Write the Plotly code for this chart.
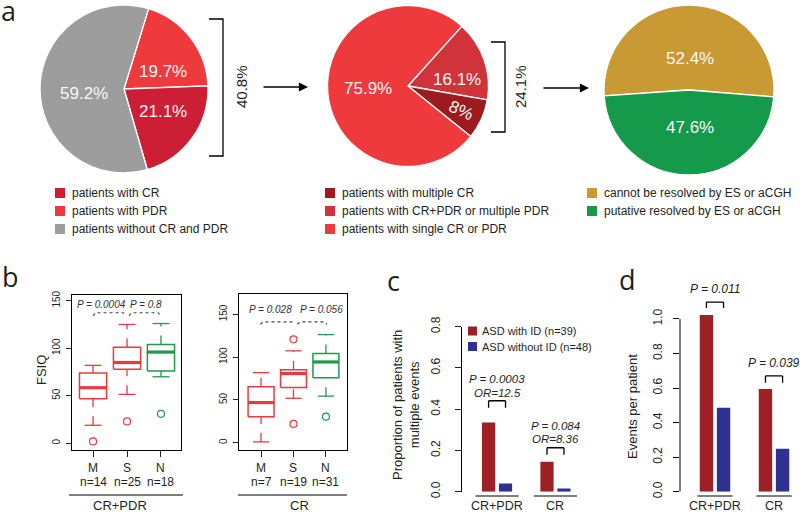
import plotly.graph_objects as go

W, H = 800, 514
def fx(x): return x / W
def fy(y): return 1 - y / H

FONT = "Liberation Sans, Arial, sans-serif"
TXT = "#231F20"

# ------------------------- data -------------------------
pie1_labels = ["patients with CR", "patients with PDR", "patients without CR and PDR"]
pie1_values = [21.1, 19.7, 59.2]
pie1_colors = ["#CC1F36", "#EE3A3D", "#9D9D9D"]
pie2_labels = ["patients with multiple CR", "patients with CR+PDR or multiple PDR", "patients with single CR or PDR"]
pie2_values = [8.0, 16.1, 75.9]
pie2_colors = ["#9B1B1F", "#D0333A", "#EE3A3D"]
pie3_labels = ["cannot be resolved by ES or aCGH", "putative resolved by ES or aCGH"]
pie3_values = [52.4, 47.6]
pie3_colors = ["#C99934", "#15994A"]
bracket_labels = ["40.8%", "24.1%"]

box_groups = ["M", "S", "N"]
box_colors = ["#E63B40", "#E63B40", "#1F9A4B"]
b1_title = "CR+PDR"
b1_n = [14, 25, 18]
b1_low = [19, 51.5, 70]
b1_q1 = [47, 78, 76]
b1_med = [58.5, 85, 96]
b1_q3 = [74, 101, 104]
b1_high = [82, 125, 126]
b1_out = [[2], [23], [31]]
b1_p = ["P = 0.0004", "P = 0.8"]

b2_title = "CR"
b2_n = [7, 19, 31]
b2_low = [1, 52, 54.5]
b2_q1 = [30.5, 64.5, 76]
b2_med = [47, 81, 94.5]
b2_q3 = [65.5, 85.5, 104.5]
b2_high = [82, 107.5, 126.5]
b2_out = [[], [22, 121], [30.5]]
b2_p = ["P = 0.028", "P = 0.056"]

bar_categories = ["CR+PDR", "CR"]
series_names = ["ASD with ID (n=39)", "ASD without ID (n=48)"]
series_colors = ["#9E1F24", "#2E3192"]
c_with_id = [0.336, 0.145]
c_without_id = [0.040, 0.016]
c_p = ["P = 0.0003", "P = 0.084"]
c_or = ["OR=12.5", "OR=8.36"]
d_with_id = [1.023, 0.595]
d_without_id = [0.486, 0.249]
d_p = ["P = 0.011", "P = 0.039"]

fig = go.Figure()
ann = []
shapes = []

def text(x, y, s, size=12, xref="paper", yref="paper", angle=0, color=TXT,
         xanchor="center", yanchor="middle", family=FONT):
    ann.append(dict(x=x, y=y, xref=xref, yref=yref, text=s, showarrow=False,
                    textangle=angle, xanchor=xanchor, yanchor=yanchor,
                    font=dict(family=family, size=size, color=color)))

# ------------------------- panel a: pies -------------------------
def add_pie(labels, values, colors, order, rotation, cx, cy, r, offsets, angles=None):
    fig.add_trace(go.Pie(
        labels=[labels[i] for i in order], values=[values[i] for i in order],
        marker=dict(colors=[colors[i] for i in order], line=dict(color="white", width=1.3)),
        sort=False, direction="clockwise", rotation=rotation, textinfo="none",
        hoverinfo="none", showlegend=False, automargin=False,
        domain=dict(x=[fx(cx - r), fx(cx + r)], y=[fy(cy + r), fy(cy - r)])))
    for k, v in enumerate(values):
        dx, dy = offsets[k]
        text(fx(cx + dx), fy(cy + dy), f"{v:g}%", size=17, color="#F7F7F7",
             angle=(angles[k] if angles else 0))

def add_legend(labels, colors, x0, ys):
    for lab, col, yy in zip(labels, colors, ys):
        shapes.append(dict(type="rect", xref="paper", yref="paper",
                           x0=fx(x0), x1=fx(x0 + 10), y0=fy(yy + 5), y1=fy(yy - 5),
                           fillcolor=col, line=dict(width=0)))
        text(fx(x0 + 15), fy(yy), lab, size=12, xanchor="left")

add_pie(pie1_labels, pie1_values, pie1_colors, [1, 0, 2], 17, 124, 89, 84,
        [(39, 22), (39, -17), (-40, 4)])
add_pie(pie2_labels, pie2_values, pie2_colors, [1, 0, 2], 42, 408, 86, 80.5,
        [(53, 24), (49, -7), (-40, 2)], angles=[24, 0, 0])
add_pie(pie3_labels, pie3_values, pie3_colors, [0, 1], -94, 689, 90, 85,
        [(1, -32), (1, 37)])

add_legend(pie1_labels, pie1_colors, 55, [193, 211, 229])
add_legend(pie2_labels, pie2_colors, 325, [193, 211, 229])
add_legend(pie3_labels, pie3_colors, 587, [193, 211])

def bracket_v(x, y0, y1, tick):
    path = f"M {fx(x - tick)},{fy(y0)} L {fx(x)},{fy(y0)} L {fx(x)},{fy(y1)} L {fx(x - tick)},{fy(y1)}"
    shapes.append(dict(type="path", xref="paper", yref="paper", path=path,
                       line=dict(color="black", width=1.3)))

bracket_v(223, 19, 156, 14)
text(fx(241), fy(87), bracket_labels[0], size=15, angle=-90)
bracket_v(505, 42, 132, 14)
text(fx(520), fy(87), bracket_labels[1], size=15, angle=-90)

for x0, x1, yy in [(262, 308, 87), (542, 589, 88)]:
    ann.append(dict(x=fx(x1), y=fy(yy), xref="paper", yref="paper", text="",
                    showarrow=True, ax=-(x1 - x0), ay=0, arrowhead=2, arrowsize=1.4,
                    arrowwidth=1.3, arrowcolor="black", standoff=0))

# ------------------------- panel b: box plots -------------------------
def add_boxes(xa, ya, low, q1, med, q3, high, outs, hw=0.4, cw=0.25):
    for i in range(len(box_groups)):
        x = i + 1
        c = box_colors[i]
        common = dict(xaxis=xa, yaxis=ya, showlegend=False, hoverinfo="skip", mode="lines")
        fig.add_trace(go.Scatter(x=[x, x], y=[q3[i], high[i]], line=dict(color=c, width=1.3, dash="dash"), **common))
        fig.add_trace(go.Scatter(x=[x, x], y=[low[i], q1[i]], line=dict(color=c, width=1.3, dash="dash"), **common))
        fig.add_trace(go.Scatter(x=[x - cw, x + cw], y=[high[i], high[i]], line=dict(color=c, width=1.3), **common))
        fig.add_trace(go.Scatter(x=[x - cw, x + cw], y=[low[i], low[i]], line=dict(color=c, width=1.3), **common))
        fig.add_trace(go.Scatter(x=[x - hw, x + hw, x + hw, x - hw, x - hw],
                                 y=[q1[i], q1[i], q3[i], q3[i], q1[i]],
                                 line=dict(color=c, width=1.5), **common))
        fig.add_trace(go.Scatter(x=[x - hw, x + hw], y=[med[i], med[i]], line=dict(color=c, width=3.2), **common))
        if outs[i]:
            fig.add_trace(go.Scatter(x=[x] * len(outs[i]), y=outs[i], mode="markers",
                                     marker=dict(symbol="circle-open", size=7, color=c, line=dict(width=1.2)),
                                     xaxis=xa, yaxis=ya, showlegend=False, hoverinfo="skip"))

def add_braces(xa, ya, spans, ytop, yend):
    for a, b in spans:
        fig.add_trace(go.Scatter(x=[a, a + 0.08, b - 0.08, b], y=[yend, ytop, ytop, yend],
                                 mode="lines", line=dict(color="#444", width=1.1, dash="dot"),
                                 xaxis=xa, yaxis=ya, showlegend=False, hoverinfo="skip"))

def box_xlabels(xa, ns):
    for i, (g, n) in enumerate(zip(box_groups, ns)):
        text(i + 1, fy(468), g, size=12, xref=xa)
        text(i + 1, fy(482), f"n={n}", size=12, xref=xa)

add_boxes("x", "y", b1_low, b1_q1, b1_med, b1_q3, b1_high, b1_out)
add_braces("x", "y", [(1.0, 1.97), (2.06, 3.0)], 137.4, 134.0)
text(1.26, 146.5, f"<i>{b1_p[0]}</i>", size=10, xref="x", yref="y", color="#333")
text(2.56, 146.5, f"<i>{b1_p[1]}</i>", size=10, xref="x", yref="y", color="#333")
box_xlabels("x", b1_n)

add_boxes("x2", "y2", b2_low, b2_q1, b2_med, b2_q3, b2_high, b2_out)
add_braces("x2", "y2", [(0.98, 2.02), (2.12, 3.04)], 141.4, 138.6)
text(1.29, 155.8, f"<i>{b2_p[0]}</i>", size=10, xref="x2", yref="y2", color="#333")
text(2.85, 155.8, f"<i>{b2_p[1]}</i>", size=10, xref="x2", yref="y2", color="#333")
box_xlabels("x2", b2_n)

text(fx(41), fy(370), "FSIQ", size=13, angle=-90)
for (x0, x1, tx, title) in [(69, 183, 120, b1_title), (238, 347, 299, b2_title)]:
    shapes.append(dict(type="line", xref="paper", yref="paper", x0=fx(x0), x1=fx(x1),
                       y0=fy(495), y1=fy(495), line=dict(color="#555", width=1.5)))
    text(fx(tx), fy(505.5), title, size=13)

# ------------------------- panels c, d: bars -------------------------
xpos = list(range(len(bar_categories)))
for vals, nm, col in zip([c_with_id, c_without_id], series_names, series_colors):
    fig.add_trace(go.Bar(x=xpos, y=vals, name=nm, marker=dict(color=col, line=dict(width=0)),
                         xaxis="x3", yaxis="y3", showlegend=False, hoverinfo="skip"))
for vals, nm, col in zip([d_with_id, d_without_id], series_names, series_colors):
    fig.add_trace(go.Bar(x=xpos, y=vals, name=nm, marker=dict(color=col, line=dict(width=0)),
                         xaxis="x4", yaxis="y4", showlegend=False, hoverinfo="skip"))

def bar_bracket(xa, ya, i, ytop, yleg, half=0.145):
    path_pts = [(i - half, yleg), (i - half, ytop), (i + half, ytop), (i + half, yleg)]
    for (a, b), (c_, d_) in zip(path_pts[:-1], path_pts[1:]):
        shapes.append(dict(type="line", xref=xa, yref=ya, x0=a, y0=b, x1=c_, y1=d_,
                           line=dict(color="black", width=1.3)))

# panel c
bar_bracket("x3", "y3", 0, 0.441, 0.407)
bar_bracket("x3", "y3", 1, 0.213, 0.179)
text(0, fy(379), f"<i>{c_p[0]}</i>", size=11.5, xref="x3", yref="paper")
text(0, fy(392.5), f"<i>{c_or[0]}</i>", size=11.5, xref="x3", yref="paper")
text(1, fy(425.5), f"<i>{c_p[1]}</i>", size=11.5, xref="x3", yref="paper")
text(1, fy(439), f"<i>{c_or[1]}</i>", size=11.5, xref="x3", yref="paper")
for nm, col, yy in zip(series_names, series_colors, [331, 346.5]):
    shapes.append(dict(type="rect", xref="paper", yref="paper", x0=fx(468), x1=fx(477),
                       y0=fy(yy + 4.5), y1=fy(yy - 4.5), fillcolor=col, line=dict(width=0)))
    text(fx(480), fy(yy), nm, size=11, xanchor="left")
text(fx(406), fy(405), "Proportion of patients with<br>multiple events", size=13, angle=-90)

# panel d
bar_bracket("x4", "y4", 0, 1.098, 1.064)
bar_bracket("x4", "y4", 1, 0.670, 0.630)
text(0, fy(289), f"<i>{d_p[0]}</i>", size=12, xref="x4", yref="paper")
text(1, fy(363), f"<i>{d_p[1]}</i>", size=12, xref="x4", yref="paper")
shapes.append(dict(type="line", xref="paper", yref="y4", x0=fx(680), x1=fx(680), y0=0, y1=1,
                   line=dict(color="black", width=1)))
text(fx(632), fy(407), "Events per patient", size=13, angle=-90)

for xa, half in [("x3", 0.37), ("x4", 0.3)]:
    for i, cat in enumerate(bar_categories):
        shapes.append(dict(type="line", xref=xa, yref="paper", x0=i - half, x1=i + half,
                           y0=fy(496), y1=fy(496), line=dict(color="#555", width=1.5)))
        text(i, fy(505.5), cat, size=12.5, xref=xa, yref="paper")

# panel letters
for lab, x, y in [("a", 8, 10), ("b", 10, 276), ("c", 393, 280), ("d", 627, 279)]:
    text(fx(x), fy(y), lab, size=27, family="Open Sans, Liberation Sans, sans-serif")

# ------------------------- layout -------------------------
axis_base = dict(showgrid=False, zeroline=False, color=TXT, automargin=False)
box_x = dict(ticks="outside", ticklen=6, showline=True, mirror=True, linecolor="black", linewidth=1,
             tickvals=[1, 2, 3], showticklabels=False, **axis_base)
box_y = dict(ticks="outside", ticklen=5, showline=True, mirror=True, linecolor="black", linewidth=1,
             tickvals=[0, 50, 100, 150], tickangle=-90, ticklabelstandoff=2,
             tickfont=dict(family=FONT, size=10, color=TXT), **axis_base)

fig.update_layout(
    width=W, height=H, autosize=False,
    margin=dict(l=0, r=0, t=0, b=0, pad=0, autoexpand=False),
    paper_bgcolor="white", plot_bgcolor="white", showlegend=False,
    barmode="group", bargap=0.42, bargroupgap=0.22,
    font=dict(family=FONT, color=TXT),
    xaxis=dict(domain=[fx(72), fx(181)], range=[0.38, 3.59], anchor="y", **box_x),
    yaxis=dict(domain=[fy(450), fy(295)], range=[-7, 156], anchor="x", **box_y),
    xaxis2=dict(domain=[fx(239), fx(347)], range=[0.32, 3.65], anchor="y2", **box_x),
    yaxis2=dict(domain=[fy(450), fy(294)], range=[-8.5, 174], anchor="x2", **box_y),
    xaxis3=dict(domain=[fx(462), fx(580)], range=[-0.6, 1.42], anchor="y3",
                showline=False, showticklabels=False, ticks="", **axis_base),
    yaxis3=dict(domain=[fy(491.7), fy(326.7)], range=[0, 0.8], anchor="x3",
                showline=True, linecolor="black", linewidth=1, ticks="outside", ticklen=6,
                tickvals=[0, 0.2, 0.4, 0.6, 0.8], ticktext=["0.0", "0.2", "0.4", "0.6", "0.8"],
                tickangle=-90, ticklabelstandoff=10,
                tickfont=dict(family=FONT, size=12, color=TXT), **axis_base),
    xaxis4=dict(domain=[fx(680), fx(800)], range=[-0.593, 1.44], anchor="y4",
                showline=False, showticklabels=False, ticks="", **axis_base),
    yaxis4=dict(domain=[fy(491.7), fy(296.5)], range=[0, 1.13], anchor="x4",
                showline=False, ticks="outside", ticklen=6, tickcolor="black",
                tickvals=[0, 0.2, 0.4, 0.6, 0.8, 1.0], ticktext=["0.0", "0.2", "0.4", "0.6", "0.8", "1.0"],
                tickangle=-90, ticklabelstandoff=6,
                tickfont=dict(family=FONT, size=12, color=TXT), **axis_base),
    annotations=ann, shapes=shapes,
)

POST = """
var de = document.documentElement, b = document.body;
de.style.margin = '0px'; de.style.padding = '0px'; de.style.overflow = 'hidden';
b.style.margin = '0px'; b.style.padding = '0px';
var g = document.getElementById('{plot_id}');
g.style.position = 'absolute'; g.style.left = '0px'; g.style.top = '0px';
"""
fig.write_html("out.html", config={"displayModeBar": False, "staticPlot": True}, post_script=POST)
